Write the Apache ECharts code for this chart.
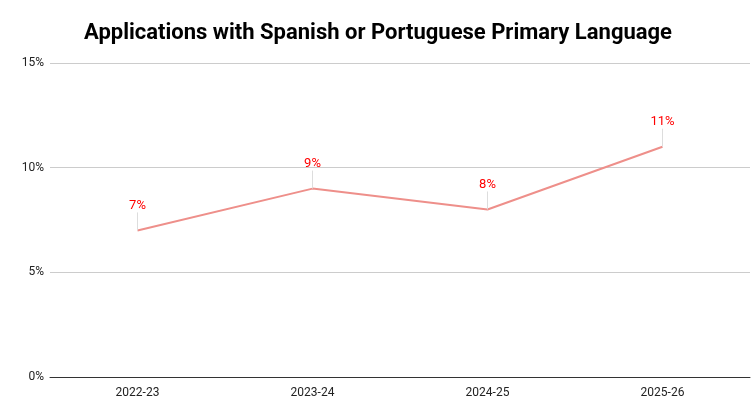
<!DOCTYPE html>
<html><head><meta charset="utf-8">
<script src="https://cdn.jsdelivr.net/npm/echarts@6/dist/echarts.min.js"></script>
<style>html,body{margin:0;padding:0;background:#fff}#c{width:756px;height:420px}</style>
</head><body><div id="c"></div>
<script>
const categories = ['2022-23','2023-24','2024-25','2025-26'];
const values = [7, 9, 8, 11];
const yTicks = [0, 5, 10, 15];
const chart = echarts.init(document.getElementById('c'));
chart.setOption({
  animation:false,
  textStyle:{fontFamily:'Roboto, Arial, sans-serif'},
  title:{text:'Applications with Spanish or Portuguese Primary Language',left:'center',top:17,
    textStyle:{fontSize:22,fontWeight:'bold',color:'#000',fontFamily:'Roboto, Arial, sans-serif'}},
  grid:{left:50,right:6,top:63,bottom:43},
  xAxis:{type:'category',data:categories,boundaryGap:true,
    axisLine:{lineStyle:{color:'#333'}},axisTick:{show:false},
    axisLabel:{color:'#222',fontSize:12,margin:10}},
  yAxis:{type:'value',min:0,max:15,interval:5,
    axisLabel:{formatter:v=>v+'%',color:'#222',fontSize:12,margin:6},
    splitLine:{lineStyle:{color:'#ccc'}},axisLine:{show:false},axisTick:{show:false}},
  series:[{type:'line',data:values,symbol:'circle',symbolSize:0.1,showSymbol:true,
    lineStyle:{color:'#ee8f8a',width:2},itemStyle:{color:'#ee8f8a'},
    label:{show:true,position:'top',distance:2,formatter:p=>p.value+'%',color:'#ff0000',fontSize:13},
    labelLayout:{dy:-16},
    labelLine:{show:true,lineStyle:{color:'#ddd',width:1}}}]
});
</script></body></html>
